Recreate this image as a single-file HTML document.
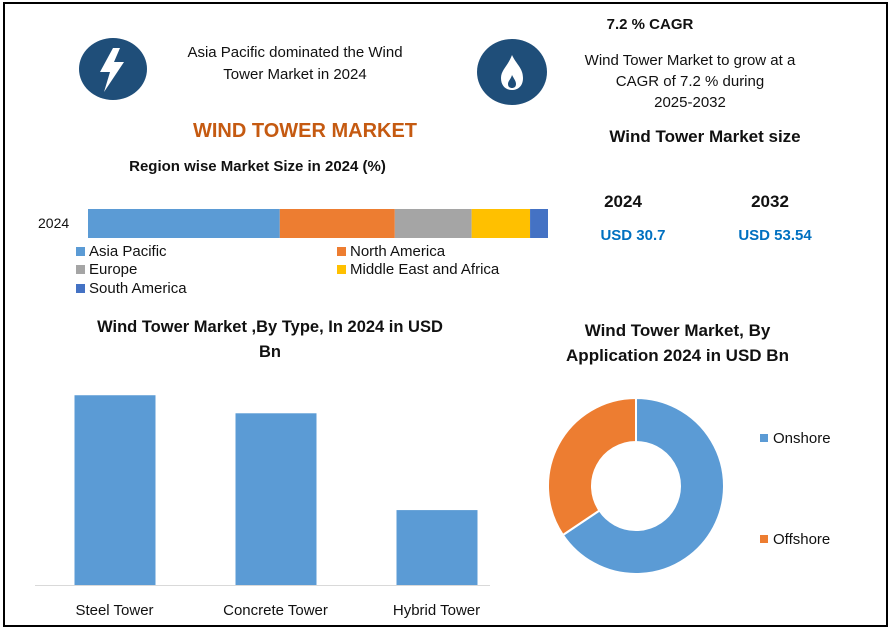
<!DOCTYPE html>
<html><head><meta charset="utf-8">
<style>
body{margin:0;width:890px;height:629px;background:#fff;overflow:hidden;font-family:"Liberation Sans",sans-serif;}
#frame{position:absolute;left:3px;top:2px;width:881px;height:621px;border:2px solid #000;}
.t{position:absolute;white-space:nowrap;color:#111;text-align:center;}
.b{font-weight:bold;}
svg{position:absolute;left:0;top:0;}
</style></head><body>
<div id="frame"></div>
<svg width="890" height="629">
 <g>
  <ellipse cx="113" cy="69" rx="34" ry="31" fill="#1f4e79"/>
  <polygon points="113,48 100,72 110,72 104,92 124,62 114,62 120,48" fill="#fff"/>
 </g>
 <g>
  <ellipse cx="512" cy="72" rx="35" ry="33" fill="#1f4e79"/>
  <path d="M512,55 C516,64 523,68 523,78 C523,86 518,90 512,90 C506,90 501,86 501,78 C501,70 508,66 512,55 Z" fill="#fff"/>
  <path d="M512,75 C514,79 516,81 516,84 C516,87 514,88 512,88 C510,88 508,87 508,84 C508,81 511,79 512,75 Z" fill="#1f4e79"/>
 </g>
 <g id="stack"></g>
 <g id="bars"></g>
 <g id="donut"></g>
</svg>
<div class="t" style="left:160px;top:42px;width:270px;font-size:15px;line-height:22px;">Asia Pacific dominated the Wind<br>Tower Market in 2024</div>
<div class="t b" style="left:150px;top:120px;width:310px;font-size:20px;color:#c55a11;">WIND TOWER MARKET</div>
<div class="t b" style="left:100px;top:158px;width:315px;font-size:15px;">Region wise Market Size in 2024 (%)</div>
<div class="t" style="left:38px;top:215px;font-size:14px;">2024</div>
<div class="t b" style="left:560px;top:16px;width:180px;font-size:15px;">7.2 % CAGR</div>
<div class="t" style="left:560px;top:50px;width:260px;font-size:15px;line-height:21px;">Wind Tower Market to grow at a<br>CAGR of 7.2 % during<br>2025-2032</div>
<div class="t b" style="left:580px;top:127px;width:250px;font-size:17px;">Wind Tower Market size</div>
<div class="t b" style="left:583px;top:192px;width:80px;font-size:17px;">2024</div>
<div class="t b" style="left:730px;top:192px;width:80px;font-size:17px;">2032</div>
<div class="t b" style="left:583px;top:227px;width:100px;font-size:15px;color:#0070c0;">USD 30.7</div>
<div class="t b" style="left:720px;top:227px;width:110px;font-size:15px;color:#0070c0;">USD 53.54</div>
<div class="t b" style="left:60px;top:315px;width:420px;font-size:16.5px;line-height:25px;">Wind Tower Market ,By Type, In 2024 in USD<br>Bn</div>
<div class="t b" style="left:545px;top:318px;width:265px;font-size:17px;line-height:25px;">Wind Tower Market, By<br>Application 2024 in USD Bn</div>
<div id="legends"></div>
<script>
const regions=["Asia Pacific","North America","Europe","Middle East and Africa","South America"];
const regionShares=[41.7,25.0,16.7,12.7,3.9];
const regionColors=["#5b9bd5","#ed7d31","#a5a5a5","#ffc000","#4472c4"];
const types=["Steel Tower","Concrete Tower","Hybrid Tower"];
const typeValues=[13.35,12.08,5.27];
const apps=["Onshore","Offshore"];
const appValues=[65.6,34.4];
const appColors=["#5b9bd5","#ed7d31"];
const NS="http://www.w3.org/2000/svg";
function mk(tag,attrs,parent){const e=document.createElementNS(NS,tag);for(const k in attrs)e.setAttribute(k,attrs[k]);parent.appendChild(e);return e;}
const sx0=88,sx1=548,sy=209,sh=29;
const sTotal=regionShares.reduce((a,b)=>a+b,0);
const xs=v=>sx0+(sx1-sx0)*v/sTotal;
let acc=0;const sg=document.getElementById('stack');
regionShares.forEach((v,i)=>{const r=mk('rect',{x:xs(acc),y:sy,width:xs(acc+v)-xs(acc),height:sh,fill:regionColors[i]},sg);

acc+=v;});
const lg=document.getElementById('legends');
const lpos=[[76,243],[337,243],[76,261],[337,261],[76,280]];
regions.forEach((n,i)=>{const d=document.createElement('div');d.className='t';d.style.cssText=`left:${lpos[i][0]}px;top:${lpos[i][1]}px;font-size:15px;`;
d.innerHTML=`<span style="display:inline-block;width:9px;height:9px;background:${regionColors[i]};margin-right:4px"></span>${n}`;

lg.appendChild(d);});
const base=585,yMax=14,pxH=199;
const yb=v=>base-v/yMax*pxH;
const bg=document.getElementById('bars');
const ax=mk('line',{x1:35,y1:base+0.5,x2:490,y2:base+0.5,stroke:'#d9d9d9','stroke-width':1},bg);

const slot=161,bx0=34;
typeValues.forEach((v,i)=>{const cx=bx0+slot*i+slot/2;
const r=mk('rect',{x:cx-40,y:yb(v),width:81,height:base-yb(v),fill:'#5b9bd5'},bg);


const t=mk('text',{x:cx,y:615,'text-anchor':'middle','font-size':15,fill:'#111','font-family':'Liberation Sans'},bg);t.textContent=types[i];
});
const dg=document.getElementById('donut');
const cx=636,cy=486,R=88,r0=44;
const tot=appValues.reduce((a,b)=>a+b,0);
let a0=0;
function pt(rad,ang){return [cx+rad*Math.sin(ang),cy-rad*Math.cos(ang)];}
appValues.forEach((v,i)=>{const a1=a0+v/tot*2*Math.PI;const lg2=(a1-a0)>Math.PI?1:0;
const p1=pt(R,a0),p2=pt(R,a1),p3=pt(r0,a1),p4=pt(r0,a0);
const p=mk('path',{d:`M${p1}A${R},${R} 0 ${lg2} 1 ${p2}L${p3}A${r0},${r0} 0 ${lg2} 0 ${p4}Z`,fill:appColors[i],stroke:'#fff','stroke-width':2},dg);

a0=a1;});
const ly=[438,539];
apps.forEach((n,i)=>{mk('rect',{x:760,y:ly[i]-4,width:8,height:8,fill:appColors[i]},dg);
const t=mk('text',{x:773,y:ly[i]+5,'font-size':15,fill:'#111','font-family':'Liberation Sans'},dg);t.textContent=n;
});
</script>
</body></html>
